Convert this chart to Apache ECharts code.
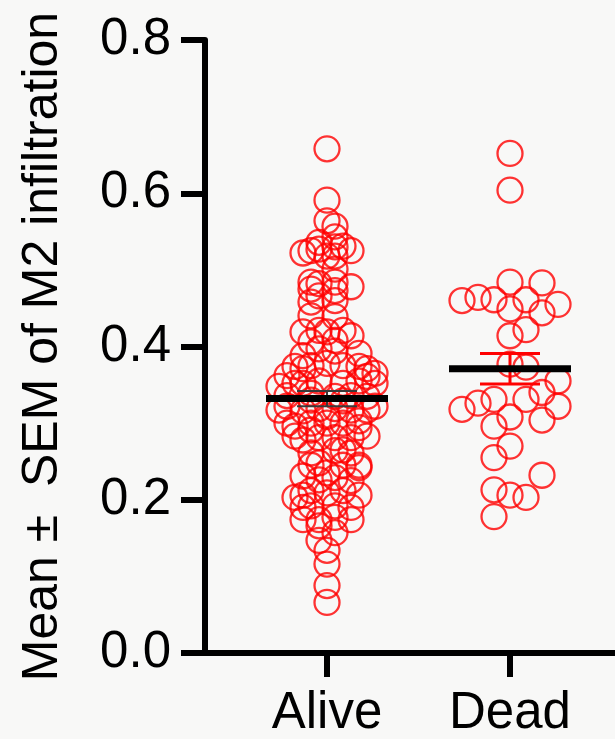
<!DOCTYPE html>
<html>
<head>
<meta charset="utf-8">
<script src="https://cdn.jsdelivr.net/npm/echarts@6/dist/echarts.min.js"></script>
<style>
html,body{margin:0;padding:0;background:#f8f8f7;}
#chart{width:615px;height:739px;}
</style>
</head>
<body>
<div id="chart"></div>
<script>
// ---------- data ----------
const categories = ['Alive', 'Dead'];
const yTicks = [0.0, 0.2, 0.4, 0.6, 0.8];

const aliveValues = [
  0.658,0.591,0.564,0.557,0.543,0.536,0.525,0.527,0.530,0.531,
  0.525,0.518,0.518,0.522,0.501,0.484,0.475,0.482,0.484,0.478,
  0.473,0.466,0.458,0.460,0.440,0.439,0.419,0.421,0.419,0.421,
  0.414,0.406,0.408,0.397,0.394,0.374,0.371,0.375,0.378,0.375,
  0.374,0.371,0.365,0.348,0.352,0.352,0.355,0.352,0.355,0.352,
  0.336,0.339,0.335,0.336,0.335,0.317,0.322,0.316,0.319,0.319,
  0.317,0.317,0.322,0.300,0.296,0.300,0.300,0.300,0.303,0.283,
  0.278,0.281,0.281,0.281,0.283,0.261,0.264,0.261,0.245,0.248,
  0.245,0.245,0.231,0.226,0.229,0.225,0.206,0.212,0.209,0.212,
  0.206,0.190,0.192,0.192,0.190,0.174,0.174,0.177,0.174,0.166,
  0.157,0.147,0.134,0.116,0.088,0.066,
  0.388,0.391,0.362,0.361,0.330,0.329,0.309,0.294,0.291,0.265,0.235,0.242,0.203
];
// swarm slot of each Alive point
const aliveSlots = [
  0,0,0,1,1,-1,-2,-1,1,2,
  3,0,1,-3,1,-2,-2,-1,1,3,
  1,-1,-2,1,-2,1,-3,-1,0,2,
  3,-2,1,-1,1,-4,-3,-2,0,2,
  4,5,6,-6,-4,-3,-1,2,4,6,
  -5,-2,1,3,5,-6,-5,-3,-1,1,
  3,5,6,-5,-4,-2,0,2,4,-4,
  -3,-1,1,3,5,-2,1,3,-2,-1,
  2,4,-3,-1,1,3,-3,-2,0,2,
  4,-3,-2,1,3,-3,-1,1,3,-1,
  1,-1,0,0,0,0,
  -3,4,-5,5,-2,2,0,4,-2,2,0,4,-4
];

const deadValues = [
  0.652,0.604,0.484,0.483,0.460,0.464,0.461,0.461,0.455,0.449,
  0.444,0.422,0.414,0.377,0.373,0.355,0.340,0.331,0.331,0.326,
  0.318,0.322,0.308,0.296,0.304,0.270,0.255,0.232,0.213,0.206,
  0.203,0.178
];
const deadSlots = [
  0,0,0,4,-6,-4,-2,2,6,0,
  4,2,0,0,2,6,4,-2,2,-4,
  -6,6,0,-2,4,0,-2,4,-2,0,
  2,-2
];

const groupMeans = [0.332, 0.371];
const groupSems = [0.010, 0.020];

// ---------- layout / style constants ----------
const SLOT = 8 / 183;          // swarm step in x-axis units
const X_MIN = 1 - 122 / 183;
const X_MAX = X_MIN + 410 / 183;
const MEAN_HW = 61 / 183;
const CAP_HW = 30 / 183;
const FONT = '"Liberation Sans", Arial, Helvetica, sans-serif';

function swarm(group, values, slots) {
  return values.map((v, i) => [group + slots[i] * SLOT, v]);
}

const summary = categories.map((c, i) => [i + 1, groupMeans[i], groupSems[i]]);

const chart = echarts.init(document.getElementById('chart'));
chart.setOption({
  backgroundColor: '#f8f8f7',
  animation: false,
  grid: { left: 205, right: 0, top: 40, bottom: 83, containLabel: false },
  xAxis: {
    type: 'value',
    min: X_MIN,
    max: X_MAX,
    splitLine: { show: false },
    axisLine: { show: true, onZero: false, lineStyle: { color: '#000', width: 6 } },
    axisTick: { show: true, customValues: [1, 2], length: 24, lineStyle: { color: '#000', width: 6 } },
    axisLabel: {
      show: true, customValues: [1, 2],
      formatter: v => categories[Math.round(v) - 1],
      color: '#000', fontSize: 51, fontFamily: FONT, margin: 35
    }
  },
  yAxis: {
    type: 'value',
    min: 0, max: 0.8, interval: 0.2,
    name: 'Mean \u00b1  SEM of M2 infiltration',
    nameLocation: 'middle',
    nameGap: 137,
    nameTextStyle: { color: '#000', fontSize: 50, fontFamily: FONT },
    splitLine: { show: false },
    axisLine: { show: true, lineStyle: { color: '#000', width: 6 } },
    axisTick: { show: true, length: 24, lineStyle: { color: '#000', width: 6 } },
    axisLabel: {
      color: '#000', fontSize: 51, fontFamily: FONT, margin: 34,
      formatter: v => v.toFixed(1)
    }
  },
  series: [
    {
      type: 'scatter', name: categories[0],
      data: swarm(1, aliveValues, aliveSlots),
      symbol: 'circle', symbolSize: 25,
      itemStyle: { color: 'rgba(0,0,0,0)', borderColor: '#ff0000', borderWidth: 2.3 },
      z: 2
    },
    {
      type: 'scatter', name: categories[1],
      data: swarm(2, deadValues, deadSlots),
      symbol: 'circle', symbolSize: 25,
      itemStyle: { color: 'rgba(0,0,0,0)', borderColor: '#ff0000', borderWidth: 2.3 },
      z: 2
    },
    {
      type: 'custom',
      data: summary,
      z: 5,
      renderItem: function (params, api) {
        const g = api.value(0), m = api.value(1), e = api.value(2);
        const errColor = g === 1 ? '#3a3a3a' : '#ff0000';
        const errWidth = g === 1 ? 2 : 3;
        const top = api.coord([g, m + e]);
        const bot = api.coord([g, m - e]);
        const capL = api.coord([g - CAP_HW, 0])[0];
        const capR = api.coord([g + CAP_HW, 0])[0];
        const mL = api.coord([g - MEAN_HW, m]);
        const mR = api.coord([g + MEAN_HW, m]);
        const es = { stroke: errColor, lineWidth: errWidth };
        return {
          type: 'group',
          children: [
            { type: 'line', shape: { x1: top[0], y1: top[1], x2: bot[0], y2: bot[1] }, style: es },
            { type: 'line', shape: { x1: capL, y1: top[1], x2: capR, y2: top[1] }, style: es },
            { type: 'line', shape: { x1: capL, y1: bot[1], x2: capR, y2: bot[1] }, style: es },
            { type: 'line', shape: { x1: mL[0], y1: mL[1], x2: mR[0], y2: mR[1] }, style: { stroke: '#000', lineWidth: 7 } }
          ]
        };
      }
    }
  ]
});
</script>
</body>
</html>
